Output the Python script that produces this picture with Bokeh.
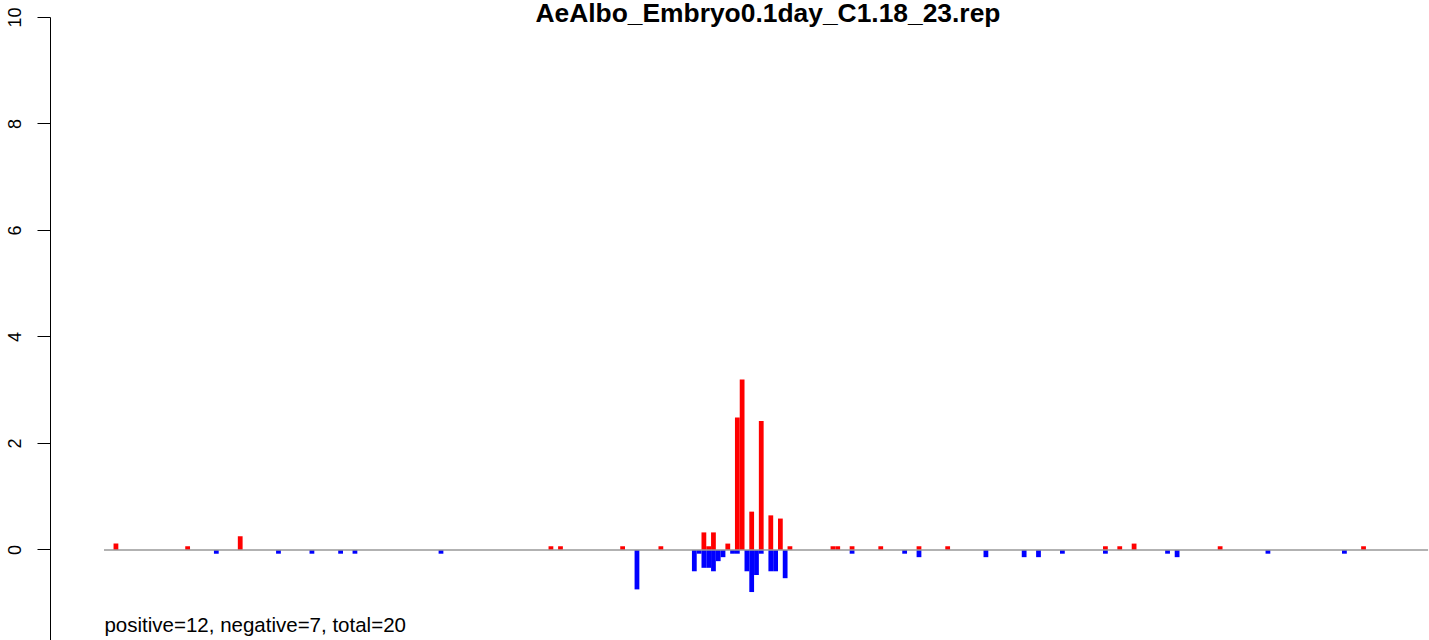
from bokeh.plotting import figure
from bokeh.models import Range1d, FixedTicker, Label, ColumnDataSource
from bokeh.embed import file_html
from bokeh.resources import INLINE

title_text = "AeAlbo_Embryo0.1day_C1.18_23.rep"
summary_text = "positive=12, negative=7, total=20"

# bin positions (index along the region) and values
pos_idx = [2, 17, 28, 93, 95, 108, 116, 125, 126, 127, 130, 132, 133, 135, 137,
           139, 141, 143, 152, 153, 156, 162, 170, 176, 209, 212, 215, 233, 263]
pos_val = [0.12, 0.07, 0.26, 0.07, 0.07, 0.07, 0.07, 0.33, 0.07, 0.33, 0.12, 2.49,
           3.20, 0.72, 2.42, 0.65, 0.59, 0.07, 0.07, 0.07, 0.07, 0.07, 0.07, 0.07,
           0.07, 0.07, 0.12, 0.07, 0.07]
neg_idx = [23, 36, 43, 49, 52, 70, 111, 123, 124, 125, 126, 127, 128, 129, 131,
           132, 134, 135, 136, 137, 139, 140, 142, 156, 167, 170, 184, 192, 195,
           200, 209, 222, 224, 243, 259]
neg_val = [-0.07, -0.07, -0.07, -0.07, -0.07, -0.07, -0.74, -0.40, -0.07, -0.335,
           -0.335, -0.40, -0.21, -0.135, -0.07, -0.07, -0.40, -0.79, -0.47, -0.07,
           -0.40, -0.40, -0.53, -0.07, -0.07, -0.135, -0.135, -0.135, -0.135,
           -0.07, -0.07, -0.07, -0.135, -0.07, -0.07]
x_min, x_max = 0, 277
y_ticks = [0, 2, 4, 6, 8, 10]
y_lo, y_hi = -1.70, 10

p = figure(width=1429, height=640, output_backend="svg", toolbar_location=None,
           x_range=Range1d(-11.19, 277.3), y_range=Range1d(y_lo, 10.319),
           x_axis_location=None, min_border_left=50, min_border_top=0,
           min_border_right=0, min_border_bottom=0)
p.outline_line_color = None
p.xgrid.visible = False
p.ygrid.visible = False
p.background_fill_color = "white"

pos_src = ColumnDataSource(dict(left=pos_idx, right=[i + 1 for i in pos_idx],
                                top=pos_val, bottom=[0] * len(pos_idx)))
neg_src = ColumnDataSource(dict(left=neg_idx, right=[i + 1 for i in neg_idx],
                                top=[0] * len(neg_idx), bottom=neg_val))
p.quad(left="left", right="right", top="top", bottom="bottom", source=neg_src,
       fill_color="#0000FF", line_color=None)
p.quad(left="left", right="right", top="top", bottom="bottom", source=pos_src,
       fill_color="#FF0000", line_color=None)

p.line(x=[x_min, x_max], y=[0, 0], line_color="#999999", line_width=1.5)

ax = p.yaxis[0]
ax.ticker = FixedTicker(ticks=y_ticks)
ax.bounds = (y_lo, y_hi)
ax.axis_line_color = "black"
ax.axis_line_width = 1
ax.major_tick_line_color = "black"
ax.major_tick_out = 13
ax.major_tick_in = 0
ax.minor_tick_out = 0
ax.minor_tick_in = 0
ax.major_label_orientation = "vertical"
ax.major_label_text_font = "Liberation Sans"
ax.major_label_text_font_size = "18px"
ax.major_label_text_color = "black"
ax.major_label_standoff = 16

p.add_layout(Label(x=138.9, y=10.085, text=title_text, text_align="center",
                   text_baseline="alphabetic", text_font="Liberation Sans",
                   text_font_style="bold", text_font_size="26.4px",
                   text_color="black"))
p.add_layout(Label(x=0.1, y=-1.393, text=summary_text, text_align="left",
                   text_baseline="alphabetic", text_font="Liberation Sans",
                   text_font_size="20.5px", text_color="black"))

open("out.html", "w").write(file_html(p, INLINE))
